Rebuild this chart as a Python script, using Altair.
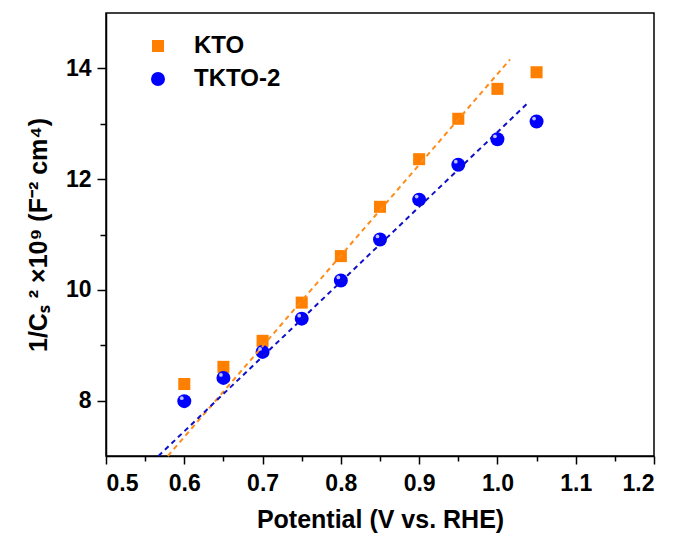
import altair as alt
import pandas as pd

potential = [0.60, 0.65, 0.70, 0.75, 0.80, 0.85, 0.90, 0.95, 1.00, 1.05]
kto = [8.30, 8.61, 9.08, 9.77, 10.61, 11.50, 12.36, 13.09, 13.63, 13.93]
tkto2 = [7.99, 8.41, 8.88, 9.48, 10.17, 10.91, 11.63, 12.26, 12.72, 13.04]

series_names = ["KTO", "TKTO-2"]
series_colors = ["#FF8000", "#0000FF"]
series_shapes = ["square", "circle"]
series_sizes = [145, 195]
line_colors = ["#FF8C1A", "#1010C8"]

# linear-fit end points
fit_series = ["KTO", "KTO", "TKTO-2", "TKTO-2"]
fit_x = [0.579, 1.016, 0.567, 1.040]
fit_y = [7.0, 14.16, 7.0, 13.39]

x_major = [0.5, 0.6, 0.7, 0.8, 0.9, 1.0, 1.1, 1.2]
x_minor = [0.55, 0.65, 0.75, 0.85, 0.95, 1.05, 1.15]
y_major = [8, 10, 12, 14]
y_minor = [9, 11, 13]

pts = pd.DataFrame({
    "x": potential * 2,
    "y": kto + tkto2,
    "series": ["KTO"] * len(kto) + ["TKTO-2"] * len(tkto2),
})
fits = pd.DataFrame({"x": fit_x, "y": fit_y, "series": fit_series})

FONT = "Liberation Sans"
xscale = alt.Scale(domain=[0.5, 1.2], nice=False, zero=False)
yscale = alt.Scale(domain=[7, 15], nice=False, zero=False)

x_axis = alt.Axis(values=x_major, format=".1f", orient="bottom", tickSize=8, tickWidth=1.5,
                  domainWidth=1.5, domainColor="black", tickColor="black", grid=False,
                  labelFont=FONT, labelFontSize=23, labelFontWeight="bold", labelColor="black",
                  labelPadding=8, title="Potential (V vs. RHE)", titleFont=FONT,
                  titleFontSize=25, titleFontWeight="bold", titleColor="black", titlePadding=12)
y_axis = alt.Axis(values=y_major, orient="left", tickSize=9, tickWidth=1.5,
                  domainWidth=1.5, domainColor="black", tickColor="black", grid=False,
                  labelFont=FONT, labelFontSize=23, labelFontWeight="bold", labelColor="black",
                  labelPadding=6, title="1/Cₛ ² ×10⁹ (F⁻² cm⁴)", titleFont=FONT,
                  titleFontSize=25, titleFontWeight="bold", titleColor="black", titlePadding=14)

x_minor_axis = alt.Axis(values=x_minor, orient="bottom", tickSize=5, tickWidth=1.5, labels=False,
                        domain=False, grid=False, title=None, tickColor="black")
y_minor_axis = alt.Axis(values=y_minor, orient="left", tickSize=6, tickWidth=1.5, labels=False,
                        domain=False, grid=False, title=None, tickColor="black")

legend = alt.Legend(title=None, orient="none", legendX=40, legendY=21,
                    labelFont=FONT, labelFontSize=24, labelFontWeight="bold",
                    labelColor="black", labelOffset=24,
                    rowPadding=9, symbolStrokeWidth=0, symbolOpacity=1)

points = alt.Chart(pts).mark_point(filled=True, opacity=1).encode(
    x=alt.X("x:Q", scale=xscale, axis=x_axis),
    y=alt.Y("y:Q", scale=yscale, axis=y_axis),
    color=alt.Color("series:N", scale=alt.Scale(domain=series_names, range=series_colors),
                    legend=legend),
    shape=alt.Shape("series:N", scale=alt.Scale(domain=series_names, range=series_shapes),
                    legend=legend),
    size=alt.Size("series:N", scale=alt.Scale(domain=series_names, range=series_sizes),
                  legend=legend),
)

minor = alt.Chart(pts).mark_point(opacity=0).encode(
    x=alt.X("x:Q", scale=xscale, axis=x_minor_axis),
    y=alt.Y("y:Q", scale=yscale, axis=y_minor_axis),
)

line_layers = []
for name, col in zip(series_names, line_colors):
    line_layers.append(
        alt.Chart(fits).transform_filter(alt.datum.series == name)
        .mark_line(strokeDash=[5, 4], strokeWidth=2, color=col)
        .encode(x=alt.X("x:Q", scale=xscale, axis=None), y=alt.Y("y:Q", scale=yscale, axis=None))
    )

shine = alt.Chart(pts).transform_filter(alt.datum.series == "TKTO-2").mark_point(
    filled=True, color="white", opacity=0.75, xOffset=-2.5, yOffset=-3, size=14
).encode(
    x=alt.X("x:Q", scale=xscale, axis=None),
    y=alt.Y("y:Q", scale=yscale, axis=None),
)

chart = alt.layer(points, minor, *line_layers, shine).resolve_axis(
    x="independent", y="independent"
).properties(
    width=548, height=443,
    autosize=alt.AutoSizeParams(type="none"),
    padding={"left": 106, "top": 13, "right": 21, "bottom": 82},
    background="white",
).configure_view(stroke="black", strokeWidth=1.5)

chart.save("out.html", embed_options={"renderer": "svg", "actions": False})
